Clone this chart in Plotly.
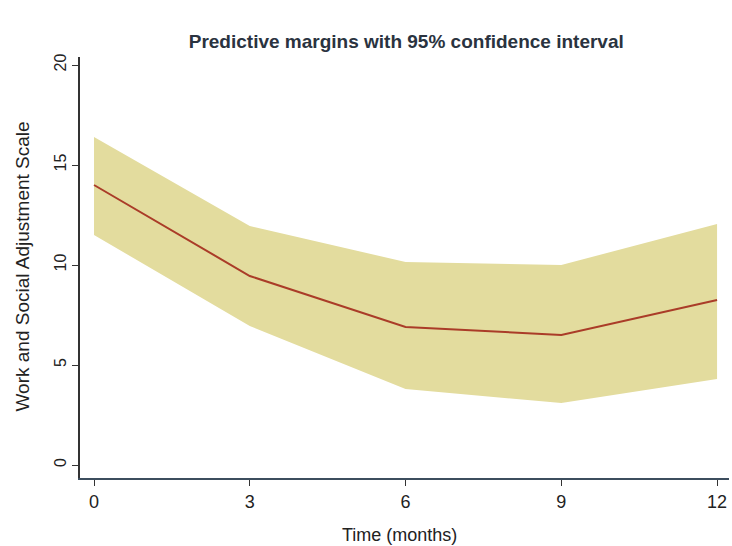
import plotly.graph_objects as go

months = [0, 3, 6, 9, 12]
margin_mean = [14.0, 9.45, 6.9, 6.5, 8.25]
ci_upper = [16.4, 11.95, 10.15, 10.0, 12.05]
ci_lower = [11.5, 6.95, 3.8, 3.1, 4.3]

x_ticks = [0, 3, 6, 9, 12]
y_ticks = [0, 5, 10, 15, 20]

FONT = "Liberation Sans, Arial, sans-serif"

fig = go.Figure()
fig.add_trace(go.Scatter(x=months, y=ci_upper, mode="lines", line=dict(width=0),
                         showlegend=False, hoverinfo="skip"))
fig.add_trace(go.Scatter(x=months, y=ci_lower, mode="lines", line=dict(width=0),
                         fill="tonexty", fillcolor="#e3dc9e", showlegend=False, hoverinfo="skip"))
fig.add_trace(go.Scatter(x=months, y=margin_mean, mode="lines",
                         line=dict(color="#aa3c28", width=2), showlegend=False))

fig.update_layout(
    width=732, height=546,
    margin=dict(l=80, r=3, t=57, b=68),
    paper_bgcolor="white", plot_bgcolor="white",
    font=dict(family=FONT, color="#222222", size=14),
    title=dict(text="<b>Predictive margins with 95% confidence interval</b>",
               x=0.555, xanchor="center", y=0.925, yanchor="middle",
               font=dict(size=19, color="#2a3340", family=FONT)),
    xaxis=dict(range=[-0.27, 12.23], tickvals=x_ticks, ticktext=[str(v) for v in x_ticks],
               showgrid=False, zeroline=False, showline=True, linecolor="#3c4d5e", linewidth=2,
               ticks="outside", ticklen=6, tickcolor="#333333", tickfont=dict(size=18)),
    yaxis=dict(range=[-0.65, 20.4], tickvals=y_ticks, ticktext=[str(v) for v in y_ticks],
               showgrid=False, zeroline=False, showline=True, linecolor="#333333", linewidth=1.5,
               ticks="outside", ticklen=6, tickcolor="#333333", tickangle=-90,
               tickfont=dict(size=16)),
    annotations=[
        dict(text="Time (months)", xref="paper", yref="paper", x=0.493, y=-0.135,
             xanchor="center", yanchor="middle", showarrow=False,
             font=dict(size=18, color="#222222", family=FONT)),
        dict(text="Work and Social Adjustment Scale", xref="paper", yref="paper",
             x=-0.089, y=0.503, xanchor="center", yanchor="middle", textangle=-90,
             showarrow=False, font=dict(size=19, color="#222222", family=FONT)),
    ],
)

fig.write_html("out.html")
